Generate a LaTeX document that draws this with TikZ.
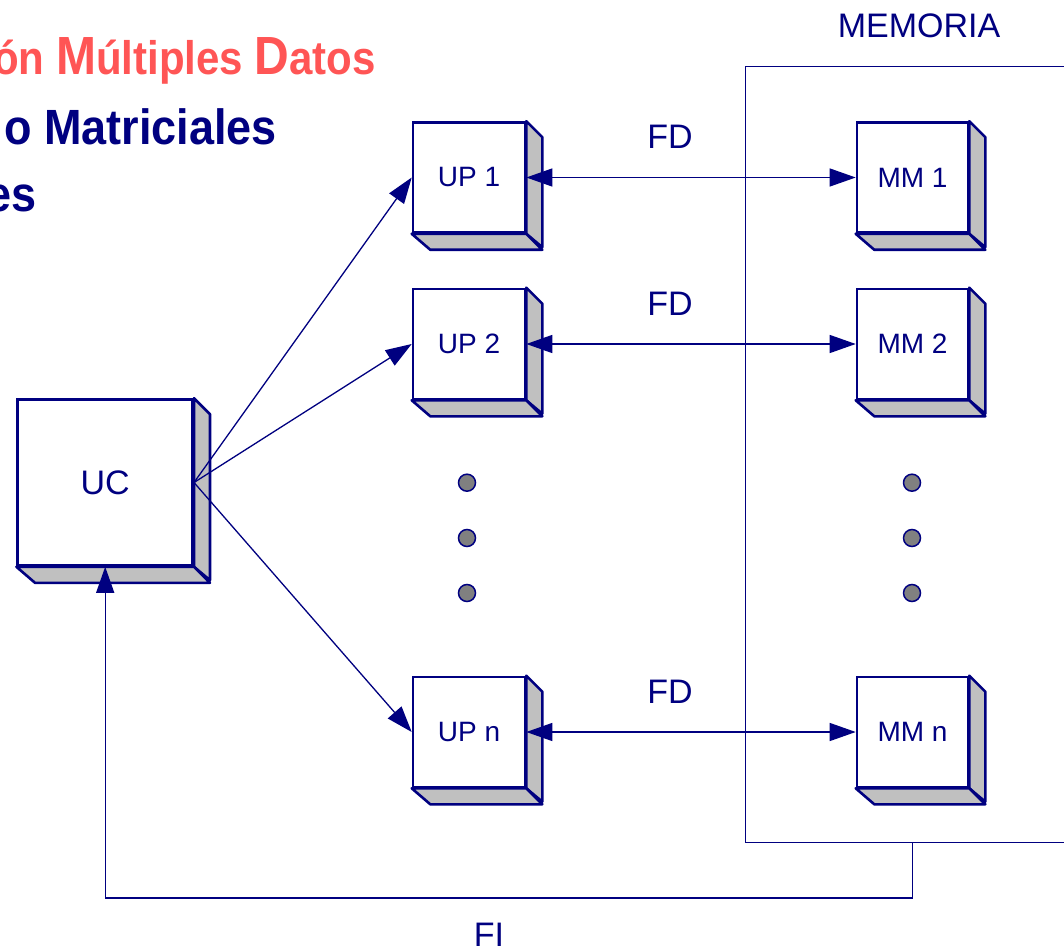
\documentclass[tikz,border=0pt]{standalone}
\usepackage{graphicx}
\usepackage{fontspec}
\setmainfont{Liberation Sans}
\usetikzlibrary{arrows.meta}
\definecolor{navy}{RGB}{0,0,128}
\definecolor{titlered}{RGB}{255,85,85}
\definecolor{sidegray}{RGB}{192,192,192}
\definecolor{dotgray}{RGB}{128,128,128}
\tikzset{
  front/.style={draw=navy, line width=2.6pt, fill=white, text=navy, inner sep=0pt,
    font=\fontsize{28}{32}\selectfont},
  face/.style={draw=navy, line width=2.6pt, fill=sidegray, line join=round},
  conn/.style={draw=navy, line width=1.3pt},
  bigtri/.tip={Triangle[length=26pt,width=18pt]},
  lab/.style={text=navy, font=\fontsize{34}{40}\selectfont, inner sep=0pt},
  dotc/.style={circle, draw=navy, line width=1.5pt, fill=dotgray, minimum size=17pt, inner sep=0pt},
  titlered/.style={text=titlered, inner sep=0pt, anchor=base east, font=\bfseries\fontsize{42}{50}\selectfont},
  titleblue/.style={text=navy, inner sep=0pt, anchor=base east, font=\bfseries\fontsize{45}{52}\selectfont},
}
\newcommand{\cubeb}[6]{%
  \node[front, minimum width=#4pt, minimum height=#5pt] (#1) at (#2,#3) {#6};
  \draw[face] (#1.north east) -- ++(16,16) -- ++(0,#5) -- (#1.south east) -- cycle;
  \draw[face] (#1.south west) -- (#1.south east) -- ++(16,16) -- ++(-#4,0) -- cycle;
}
\begin{document}
\begin{tikzpicture}[x=1pt,y=-1pt]
\useasboundingbox (0,0) rectangle (1064,949);
\clip (0,0) rectangle (1064,949);
\fill[white] (0,0) rectangle (1064,949);

% titles
\node[titlered] (t1) at (376,75) {\scalebox{1}[1.12]{ón {\fontsize{48}{56}\selectfont M}últiples {\fontsize{48}{56}\selectfont D}atos}};
\node[titleblue] (t2) at (277,145) {\scalebox{1}[1.1]{o Matriciales}};
\node[titleblue] (t3) at (37,212) {\scalebox{1}[1.1]{es}};

% memory frame
\draw[navy, line width=1.4pt] (1100,66.7) -- (745.5,66.7) -- (745.5,842.7) -- (1100,842.7);
\coordinate (memb) at (912.5,842.7);
\node[lab, anchor=base] (memlab) at (919,38) {MEMORIA};

% cubes
\cubeb{uc}{105.2}{482.5}{175}{166}{\fontsize{34}{40}\selectfont UC}
\cubeb{up1}{469}{177.5}{112}{110}{UP 1}
\cubeb{up2}{469}{344}{112}{110}{UP 2}
\cubeb{upn}{469}{732}{112}{110}{UP n}
\cubeb{mm1}{912.5}{177.5}{111}{110}{MM 1}
\cubeb{mm2}{912.5}{344}{111}{110}{MM 2}
\cubeb{mmn}{912.5}{732}{111}{110}{MM n}

% dots
\node[dotc] (dl1) at (467,482.7) {};
\node[dotc] (dl2) at (467,538) {};
\node[dotc] (dl3) at (467,593) {};
\node[dotc] (dr1) at (912,482.7) {};
\node[dotc] (dr2) at (912,538) {};
\node[dotc] (dr3) at (912,593) {};

% connectors UC -> UP
\draw[conn, -bigtri] (uc.east) -- (up1.west);
\draw[conn, -bigtri] (uc.east) -- (up2.west);
\draw[conn, -bigtri] (uc.east) -- (upn.west);

% FD
\draw[conn, bigtri-bigtri] (up1.east) -- (mm1.west);
\draw[conn, bigtri-bigtri] (up2.east) -- (mm2.west);
\draw[conn, bigtri-bigtri] (upn.east) -- (mmn.west);
\node[lab, anchor=base] (fd1) at (670,149) {FD};
\node[lab, anchor=base] (fd2) at (670,315) {FD};
\node[lab, anchor=base] (fdn) at (670,703) {FD};

% FI
\coordinate (fic) at (105.2,898);
\draw[conn, -bigtri] (memb) |- (fic) -- (uc.south);
\node[lab, anchor=base] (fi) at (489,946) {FI};
\end{tikzpicture}
\end{document}
